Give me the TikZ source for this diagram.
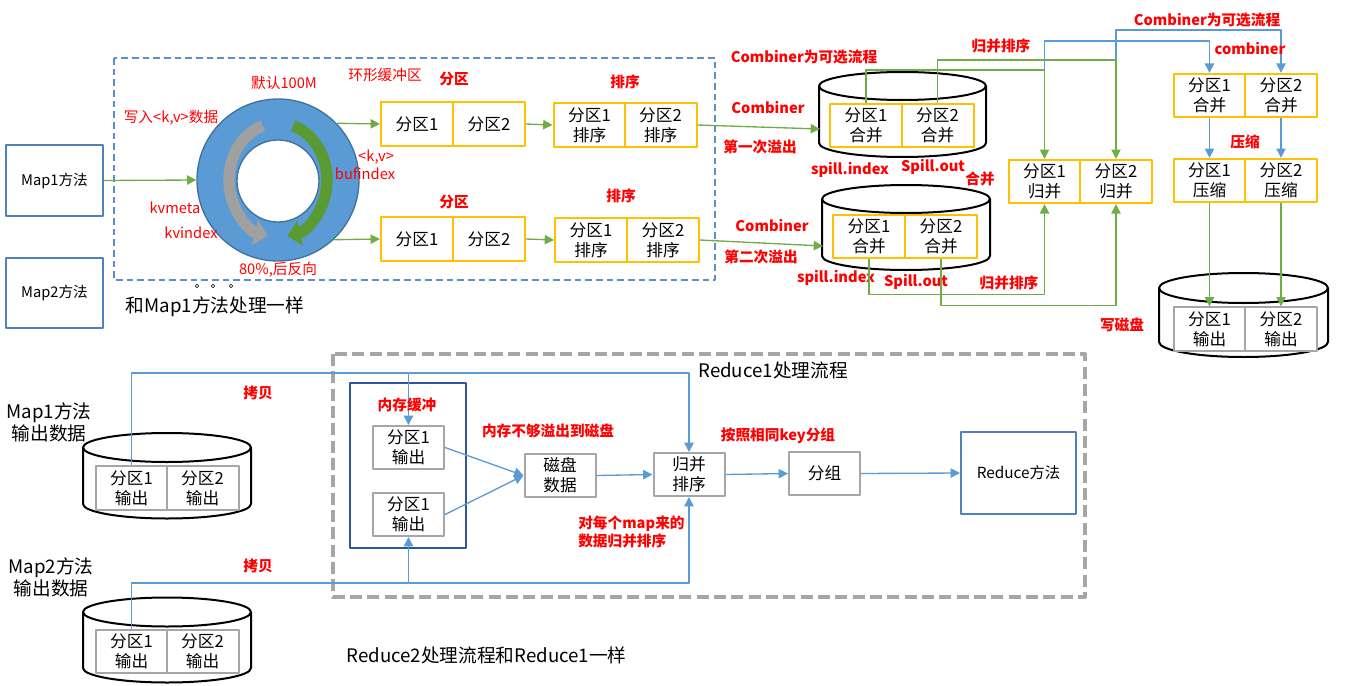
\documentclass[tikz,border=0pt]{standalone}
\usepackage{fontspec}
\setmainfont{Noto Sans CJK SC}
\usetikzlibrary{arrows.meta}
\definecolor{ringblue}{HTML}{5B9BD5}
\definecolor{ringedge}{HTML}{41719C}
\definecolor{ringgray}{HTML}{A0A0A0}
\definecolor{ringgreen}{HTML}{5A9A32}
\definecolor{boxyellow}{HTML}{FFC000}
\definecolor{boxgray}{HTML}{A6A6A6}
\definecolor{flowgreen}{HTML}{70AD47}
\definecolor{flowblue}{HTML}{5B9BD5}
\definecolor{mapblue}{HTML}{4F81BD}
\definecolor{memblue}{HTML}{2F5597}
\definecolor{dashblue}{HTML}{5B8FC7}
\begin{document}
\begin{tikzpicture}[x=0.75pt,y=-0.75pt,line join=round,
  font=\fontsize{12.5}{15}\selectfont,
  >={Triangle[length=7pt,width=7pt]},
  halfbox/.style={draw=boxyellow,line width=1.5pt,fill=white,minimum width=54pt,minimum height=32.5pt,inner sep=0pt,align=center},
  grayhalf/.style={halfbox,draw=boxgray},
  plainbox/.style={draw=boxgray,line width=1.5pt,fill=white,minimum width=53.25pt,minimum height=32.25pt,inner sep=0pt,align=center},
  mapbox/.style={draw=mapblue,line width=1.5pt,minimum width=72.75pt,minimum height=53pt,font=\fontsize{11}{13}\selectfont},
  lab/.style={text=red,inner sep=0pt,font=\fontsize{11}{13}\selectfont},
  blab/.style={lab,font=\bfseries\fontsize{11}{13.5}\selectfont},
  bigtxt/.style={inner sep=0pt,align=center,font=\fontsize{14}{16.5}\selectfont},
  gline/.style={draw=flowgreen,line width=1pt},
  bline/.style={draw=flowblue,line width=1pt},
  drum/.style={draw=black,line width=1.5pt,fill=white}]
\useasboundingbox (0,0) rectangle (1345,685);

% map side and ring buffer
\node[mapbox] (map1) at (54.5,180.5) {Map1方法};
\node[mapbox] (map2) at (54.5,293) {Map2方法};
\draw[draw=dashblue,line width=1.5pt,dash pattern=on 5pt off 3pt] (114,58) rectangle (715,280);
\node[circle,draw=ringedge,fill=ringblue,line width=1pt,minimum size=121.5pt,inner sep=0pt] (ring) at (278,180) {};
\node[circle,draw=ringedge,fill=white,line width=1pt,minimum size=61.5pt,inner sep=0pt] (hole) at (278,181) {};
\draw[line width=8.5pt,draw=ringgray,-{Triangle[length=10pt,width=19pt]}]
  ([shift={(278,180)}]252:49 and 57) arc[start angle=252,end angle=102,x radius=49,y radius=57];
\draw[line width=8.5pt,draw=ringgreen,-{Triangle[length=10pt,width=19pt]}]
  ([shift={(278,180)}]288:49 and 57) arc[start angle=288,end angle=439,x radius=49,y radius=57];
\node[lab] at (284,83) {默认100M};
\node[lab] at (385,75) {环形缓冲区};
\node[lab] at (171,118) {写入<k,v>数据};
\node[lab] at (376,157) {<k,v>};
\node[lab] at (365,174) {bufindex};
\node[lab] at (175,208) {kvmeta};
\node[lab] at (191,233) {kvindex};
\node[lab] at (278,270) {80\%,后反向};
\node[bigtxt] at (215,307) {和Map1方法处理一样};
\foreach \x in {197,213,231} \draw (\x,286) circle (1.4pt);

% partition and sort
\node[halfbox] (p1a) at (417,124) {分区1};
\node[halfbox] (p1b) at (489,124) {分区2};
\node[halfbox] (s1a) at (589.5,125) {分区1\\排序};
\node[halfbox] (s1b) at (660.5,125) {分区2\\排序};
\node[halfbox] (p2a) at (417,239) {分区1};
\node[halfbox] (p2b) at (489,239) {分区2};
\node[halfbox] (s2a) at (591,240) {分区1\\排序};
\node[halfbox] (s2b) at (663,240) {分区2\\排序};
\node[blab] at (454,79) {分区};
\node[blab] at (625,82) {排序};
\node[blab] at (454,202) {分区};
\node[blab] at (621,196) {排序};
\draw[gline,->] (map1.east) -- (ring.west);
\draw[gline,->] (ring.44) -- (p1a.west);
\draw[gline,->] (ring.-47) -- (p2a.west);
\draw[gline,->] (p1b.east) -- (s1a.west);
\draw[gline,->] (p2b.east) -- (s2a.west);

% spill files
\draw[drum] (819,86) -- (819,143) arc[start angle=180,end angle=0,x radius=83.5,y radius=14] -- (986,86);
\draw[drum] (902.5,86) ellipse[x radius=83.5,y radius=14];
\draw[drum] (822,199) -- (822,256) arc[start angle=180,end angle=0,x radius=84,y radius=14] -- (990,199);
\draw[drum] (906,199) ellipse[x radius=84,y radius=14];
\coordinate (cy1w) at (820,129);
\coordinate (cy2w) at (823,246);
\node[halfbox] (c1a) at (866,125.5) {分区1\\合并};
\node[halfbox] (c1b) at (937.5,125.5) {分区2\\合并};
\node[halfbox] (c2a) at (869,236.5) {分区1\\合并};
\node[halfbox] (c2b) at (941,236.5) {分区2\\合并};
\draw[gline,->] (s1b.east) -- (cy1w);
\draw[gline,->] (s2b.east) -- (cy2w);
\node[blab] at (804,57) {Combiner为可选流程};
\node[blab] at (768,108) {Combiner};
\node[blab] at (760,147) {第一次溢出};
\node[blab] at (772,226) {Combiner};
\node[blab] at (761,257) {第二次溢出};
\node[blab] at (850,170) {spill.index};
\node[blab] at (933,167) {Spill.out};
\node[blab] at (980,179) {合并};
\node[blab] at (836,278) {spill.index};
\node[blab] at (916,282) {Spill.out};
\node[blab] at (1009,283) {归并排序};
\node[blab] at (1001,46) {归并排序};

% merge, combine, compress, output
\node[halfbox] (m1) at (1044.5,181.5) {分区1\\归并};
\node[halfbox] (m2) at (1116,181.5) {分区2\\归并};
\node[halfbox] (k1) at (1209.5,95.5) {分区1\\合并};
\node[halfbox] (k2) at (1281,95.5) {分区2\\合并};
\node[halfbox] (z1) at (1209.5,180.5) {分区1\\压缩};
\node[halfbox] (z2) at (1281,180.5) {分区2\\压缩};
\draw[drum] (1159,288) -- (1159,342) arc[start angle=180,end angle=0,x radius=84.5,y radius=15] -- (1328,288);
\draw[drum] (1243.5,288) ellipse[x radius=84.5,y radius=15];
\node[grayhalf] (o1) at (1209.5,329) {分区1\\输出};
\node[grayhalf] (o2) at (1281,329) {分区2\\输出};
\coordinate (j1) at (1044.5,70);
\coordinate (j2) at (1116,60);
\draw[gline,->] (c1a.north) |- (j1) -- (m1.north);
\draw[gline,->] (c1b.north) |- (j2) -- (m2.north);
\draw[gline,->] (c2a.south) -- ++(0,35) -| (m1.south);
\draw[gline,->] (c2b.south) -- ++(0,46) -| (m2.south);
\draw[bline,->] (j1) -- ++(0,-29) -| (k1.north);
\draw[bline,->] (j2) -- ++(0,-30) -| (k2.north);
\draw[bline,->] (k1.south) -- (z1.north);
\draw[bline,->] (k2.south) -- (z2.north);
\draw[gline,->] (z1.south) -- (o1.north);
\draw[gline,->] (z2.south) -- (o2.north);
\node[blab] at (1207,20) {Combiner为可选流程};
\node[blab] at (1250,49) {combiner};
\node[blab] at (1245,142) {压缩};
\node[blab] at (1122,325) {写磁盘};

% reduce side
\draw[draw=boxgray,line width=3pt,dash pattern=on 9pt off 4pt] (333,354) rectangle (1085,597);
\node[bigtxt] at (773,370) {Reduce1处理流程};
\node[bigtxt] at (49,422.5) {Map1方法\\输出数据};
\node[bigtxt] at (51,577) {Map2方法\\输出数据};
\draw[drum] (83,447.5) -- (83,504) arc[start angle=180,end angle=0,x radius=84,y radius=14.5] -- (251,447.5);
\draw[drum] (167,447.5) ellipse[x radius=84,y radius=14.5];
\draw[drum] (83,612) -- (83,668) arc[start angle=180,end angle=0,x radius=84,y radius=14.5] -- (251,612);
\draw[drum] (167,612) ellipse[x radius=84,y radius=14.5];
\node[grayhalf] (r1a) at (131.5,488) {分区1\\输出};
\node[grayhalf] (r1b) at (202.5,488) {分区2\\输出};
\node[grayhalf] (r2a) at (131.5,651.5) {分区1\\输出};
\node[grayhalf] (r2b) at (202.5,651.5) {分区2\\输出};
\node[draw=memblue,line width=1.5pt,minimum width=87pt,minimum height=123.75pt] (mem) at (408,465.5) {};
\node[plainbox] (b1) at (408.5,447.5) {分区1\\输出};
\node[plainbox] (b2) at (408.5,514.5) {分区1\\输出};
\node[plainbox] (disk) at (560,475.5) {磁盘\\数据};
\node[plainbox] (mg) at (689,474.5) {归并\\排序};
\node[plainbox] (grp) at (824.5,473.5) {分组};
\node[draw=mapblue,line width=1.5pt,minimum width=86.25pt,minimum height=61.5pt,font=\fontsize{11.5}{13}\selectfont] (rdc) at (1018.5,473) {Reduce方法};
\coordinate (cp1) at (408.5,373);
\coordinate (cp2) at (408.5,583);
\draw[bline,->] (r1a.north) |- (cp1) -- (b1.north);
\draw[bline,->] (cp1) -| (mg.north);
\draw[bline,->] (r2a.north) |- (cp2) -- (b2.south);
\draw[bline,->] (cp2) -| (mg.south);
\draw[bline,->] (b1.east) -- (disk.west);
\draw[bline,->] (b2.east) -- (disk.west);
\draw[bline,->] (disk.east) -- (mg.west);
\draw[bline,->] (mg.east) -- (grp.west);
\draw[bline,->] (grp.east) -- (rdc.west);
\node[blab] at (407,405) {内存缓冲};
\node[blab] at (548,431) {内存不够溢出到磁盘};
\node[blab] at (778,436) {按照相同key分组};
\node[blab,align=left,anchor=west] at (578,532) {对每个map来的\\数据归并排序};
\node[blab] at (258,393) {拷贝};
\node[blab] at (258,566) {拷贝};
\node[bigtxt] at (486.5,655) {Reduce2处理流程和Reduce1一样};
\end{tikzpicture}
\end{document}
